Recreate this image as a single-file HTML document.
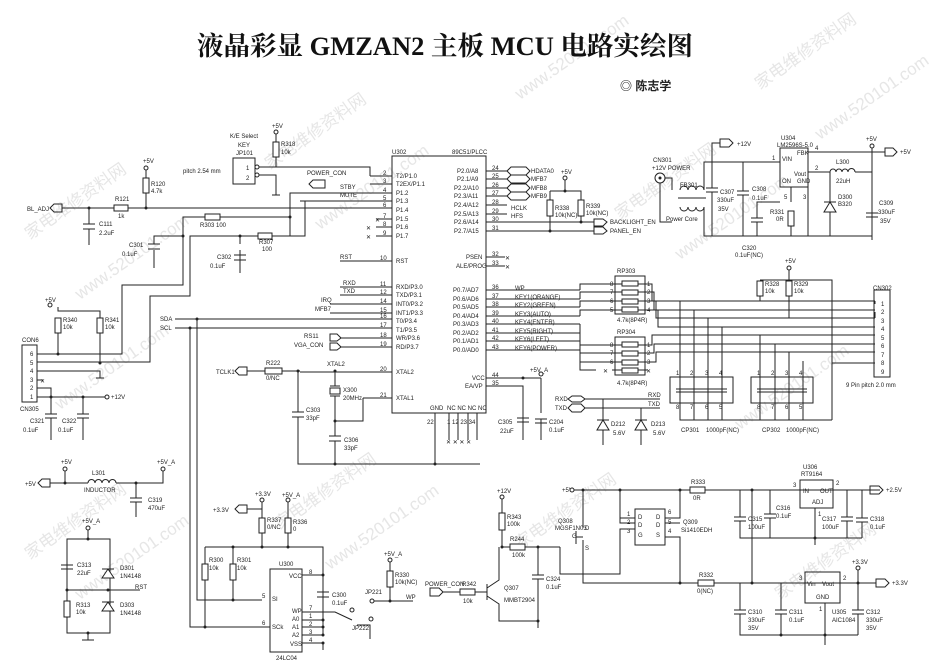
<!DOCTYPE html>
<html><head><meta charset="utf-8">
<style>
html,body{margin:0;padding:0;background:#fff;}
svg{display:block;}
.w{fill:none;stroke:#222;stroke-width:1;}
.r{fill:#fff;stroke:#222;stroke-width:1;}
.b{fill:none;stroke:#222;stroke-width:1;}
text{font-family:"Liberation Sans","Noto Sans CJK SC",sans-serif;font-size:6px;fill:#222;}
.wm{font-size:17px;fill:#e6e6e6;}
.d{fill:#222;}
</style></head><body>
<svg width="950" height="666" viewBox="0 0 950 666" xmlns="http://www.w3.org/2000/svg">
<rect width="950" height="666" fill="#fff"/>
<g class="wm">
<text class="wm" transform="translate(30,240) rotate(-35)">家电维修资料网</text>
<text class="wm" transform="translate(80,300) rotate(-35)">www.520101.com</text>
<text class="wm" transform="translate(270,170) rotate(-35)">家电维修资料网</text>
<text class="wm" transform="translate(320,230) rotate(-35)">www.520101.com</text>
<text class="wm" transform="translate(520,100) rotate(-35)">www.520101.com</text>
<text class="wm" transform="translate(620,220) rotate(-35)">家电维修资料网</text>
<text class="wm" transform="translate(680,260) rotate(-35)">www.520101.com</text>
<text class="wm" transform="translate(760,90) rotate(-35)">家电维修资料网</text>
<text class="wm" transform="translate(820,140) rotate(-35)">www.520101.com</text>
<text class="wm" transform="translate(30,560) rotate(-35)">家电维修资料网</text>
<text class="wm" transform="translate(80,600) rotate(-35)">www.520101.com</text>
<text class="wm" transform="translate(280,530) rotate(-35)">家电维修资料网</text>
<text class="wm" transform="translate(330,570) rotate(-35)">www.520101.com</text>
<text class="wm" transform="translate(520,550) rotate(-35)">家电维修资料网</text>
<text class="wm" transform="translate(740,430) rotate(-35)">www.520101.com</text>
<text class="wm" transform="translate(780,600) rotate(-35)">家电维修资料网</text>
<text class="wm" transform="translate(60,410) rotate(-35)">www.520101.com</text>
</g>
<text x="197" y="55" textLength="496" lengthAdjust="spacingAndGlyphs" style="font-family:'Liberation Serif','Noto Serif CJK SC',serif;font-size:26px;font-weight:bold;fill:#111">液晶彩显 GMZAN2 主板 MCU 电路实绘图</text>
<text x="620" y="90" style="font-size:12px;font-weight:bold">◎ 陈志学</text>

<rect class="b" x="392" y="156" width="94" height="257"/>
<text x="392" y="154">U302</text><text x="452" y="154">89C51/PLCC</text>
<g>
<text x="396" y="178">T2/P1.0</text><text x="396" y="186">T2EX/P1.1</text><text x="396" y="195">P1.2</text><text x="396" y="203">P1.3</text><text x="396" y="212">P1.4</text><text x="396" y="221">P1.5</text><text x="396" y="229">P1.6</text><text x="396" y="238">P1.7</text>
<text x="396" y="263">RST</text>
<text x="396" y="289">RXD/P3.0</text><text x="396" y="297">TXD/P3.1</text><text x="396" y="306">INT0/P3.2</text><text x="396" y="315">INT1/P3.3</text><text x="396" y="323">T0/P3.4</text><text x="396" y="332">T1/P3.5</text><text x="396" y="340">WR/P3.6</text><text x="396" y="349">RD/P3.7</text>
<text x="396" y="374">XTAL2</text><text x="396" y="400">XTAL1</text>
<text x="457" y="173">P2.0/A8</text><text x="457" y="181">P2.1/A9</text><text x="454" y="190">P2.2/A10</text><text x="454" y="198">P2.3/A11</text><text x="454" y="207">P2.4/A12</text><text x="454" y="216">P2.5/A13</text><text x="454" y="224">P2.6/A14</text><text x="454" y="233">P2.7/A15</text>
<text x="466" y="259">PSEN</text><text x="456" y="268">ALE/PROG</text>
<text x="453" y="292">P0.7/AD7</text><text x="453" y="301">P0.6/AD6</text><text x="453" y="309">P0.5/AD5</text><text x="453" y="318">P0.4/AD4</text><text x="453" y="326">P0.3/AD3</text><text x="453" y="335">P0.2/AD2</text><text x="453" y="343">P0.1/AD1</text><text x="453" y="352">P0.0/AD0</text>
<text x="472" y="380">VCC</text><text x="465" y="388">EA/VP</text>
<text x="430" y="410">GND</text><text x="447" y="410">NC NC NC NC</text>
</g>
<path class="w" d="M370 176H392M370 184H392M300 193H392M300 201H392M62 208H392M376 219H392M376 227H392M376 236H392M340 261H392M340 287H392M340 295H392M330 304H392M330 313H392M175 319H392M175 328H392M340 338H392M340 347H392M300 372H392M363 398H392"/>
<g><text x="383" y="175">2</text><text x="383" y="183">3</text><text x="383" y="192">4</text><text x="383" y="200">5</text><text x="383" y="207">6</text><text x="383" y="218">7</text><text x="383" y="226">8</text><text x="383" y="235">9</text><text x="380" y="260">10</text><text x="380" y="286">11</text><text x="380" y="294">12</text><text x="380" y="303">14</text><text x="380" y="312">15</text><text x="380" y="318">16</text><text x="380" y="327">17</text><text x="380" y="337">18</text><text x="380" y="346">19</text><text x="380" y="371">20</text><text x="380" y="397">21</text></g>
<text x="375" y="222">✕</text><text x="366" y="230">✕</text><text x="366" y="239">✕</text>
<text x="340" y="259">RST</text><text x="343" y="285">RXD</text><text x="343" y="293">TXD</text><text x="321" y="302">IRQ</text><text x="315" y="311">MFB7</text>
<text x="340" y="189">STBY</text><text x="340" y="197">MUTE</text><text x="307" y="175">POWER_CON</text>
<path class="b" d="M325 180H313L309 184L313 188H325Z"/>
<text x="230" y="138">K/E Select</text><text x="238" y="147">KEY</text><text x="236" y="155">JP101</text><text x="183" y="173">pitch 2.54 mm</text>
<rect class="b" x="233" y="158" width="22" height="26"/><text x="246" y="170">1</text><text x="246" y="180">2</text>
<circle class="r" cx="257" cy="167" r="2"/><circle class="r" cx="257" cy="175" r="2"/>
<path class="w" d="M259 167H370V176M259 175H276V195M272 195H280M276 134V142M276 157V167"/>
<circle class="r" cx="276" cy="132" r="2"/><rect class="r" x="273" y="142" width="6" height="15"/><text x="281" y="146">R318</text><text x="281" y="154">10k</text>
<text x="272" y="128">+5V</text>
<path class="w" d="M300 193H290V236H270M300 201H305V236H271M290 217H220M205 217H183V285H122V354H37M258 236H190V296H150V362H37M183 236H154V244M154 250V268M240 236V244M240 250V273"/>
<rect class="r" x="205" y="214" width="15" height="6"/><text x="200" y="227">R303 100</text>
<rect class="r" x="258" y="233" width="14" height="6"/><text x="259" y="244">R307</text><text x="262" y="251">100</text>
<path class="w" d="M148 244H160M148 249H160M234 255H246M234 260H246"/><path class="w" d="M154 250V268M240 260V273"/>
<text x="129" y="247">C301</text><text x="122" y="256">0.1uF</text><text x="217" y="259">C302</text><text x="210" y="268">0.1uF</text>
<circle class="d" cx="183" cy="236" r="1.5"/><circle class="d" cx="240" cy="236" r="1.5"/><circle class="d" cx="290" cy="217" r="1.5"/>
<text x="27" y="211">BL_ADJ</text>
<path class="b" d="M50 208L54 204H62V212H54Z"/>
<rect class="r" x="114" y="205" width="14" height="6"/><text x="115" y="201">R121</text><text x="118" y="218">1k</text>
<path class="w" d="M89 208V224M83 224H95M83 229H95M89 229V245M146 208V193M146 178V170"/>
<circle class="d" cx="89" cy="208" r="1.5"/><circle class="d" cx="146" cy="208" r="1.5"/>
<rect class="r" x="143" y="178" width="6" height="15"/><text x="151" y="186">R120</text><text x="151" y="193">4.7k</text>
<circle class="r" cx="146" cy="168" r="2"/><text x="143" y="163">+5V</text>
<text x="99" y="226">C111</text><text x="99" y="235">2.2uF</text>
<rect class="b" x="22" y="345" width="15" height="57"/><text x="22" y="342">CON6</text><text x="20" y="411">CN305</text>
<g><text x="30" y="356">6</text><text x="30" y="365">5</text><text x="30" y="373">4</text><text x="30" y="382">3</text><text x="30" y="390">2</text><text x="30" y="399">1</text></g>
<path class="w" d="M37 371H100V378M96 378H104M37 380H43M37 388H51V397M37 397H105M51 397V414M45 414H57M45 418H57M51 418V440M83 397V414M77 414H89M77 418H89M83 418V440M58 307V311H100V318M58 318V354M100 333V363M58 326V333"/>
<text x="40" y="383">✕</text>
<circle class="r" cx="107" cy="397" r="2"/><text x="111" y="399">+12V</text>
<rect class="r" x="55" y="318" width="6" height="15"/><rect class="r" x="97" y="318" width="6" height="15"/>
<text x="63" y="322">R340</text><text x="63" y="329">10k</text><text x="105" y="322">R341</text><text x="105" y="329">10k</text>
<circle class="r" cx="50" cy="305" r="2"/><text x="45" y="302">+5V</text>
<circle class="d" cx="58" cy="354" r="1.5"/><circle class="d" cx="100" cy="363" r="1.5"/><circle class="d" cx="51" cy="397" r="1.5"/><circle class="d" cx="83" cy="397" r="1.5"/>
<text x="30" y="423">C321</text><text x="23" y="432">0.1uF</text><text x="62" y="423">C322</text><text x="58" y="432">0.1uF</text>
<text x="160" y="321">SDA</text><text x="160" y="330">SCL</text>
<path class="w" d="M197 319V600H262M190 328V627H270"/>
<circle class="d" cx="197" cy="319" r="1.5"/><circle class="d" cx="190" cy="328" r="1.5"/>
<text x="304" y="338">RS11</text><text x="294" y="347">VGA_CON</text>
<path class="b" d="M330 334H337L341 338L337 341H330ZM330 343H337L341 347L337 350H330Z"/>
<text x="216" y="374">TCLK1</text><path class="b" d="M235 371L239 367H247V375H239Z"/>
<path class="w" d="M247 371H265M282 371H300M298 371V412M292 412H304M292 417H304M298 417V464H480M335 372V386M335 396V436M329 436H341M329 441H341M335 441V464M335 421H363V398M435 413V464"/>
<rect class="r" x="265" y="368" width="17" height="6"/><text x="266" y="365">R222</text><text x="266" y="380">0/NC</text>
<rect class="r" x="330" y="388" width="10" height="6"/><path class="w" d="M330 386H340M330 396H340"/>
<text x="327" y="366">XTAL2</text><text x="343" y="392">X300</text><text x="343" y="400">20MHz</text>
<text x="306" y="412">C303</text><text x="306" y="420">33pF</text><text x="344" y="442">C306</text><text x="344" y="450">33pF</text>
<circle class="d" cx="298" cy="371" r="1.5"/><circle class="d" cx="335" cy="371" r="1.5"/><circle class="d" cx="335" cy="421" r="1.5"/><circle class="d" cx="335" cy="464" r="1.5"/><circle class="d" cx="435" cy="464" r="1.5"/>
<text x="427" y="424">22</text><text x="447" y="424">1 12 23 34</text>
<path class="w" d="M449 413V440M458 413V440M468 413V440M477 413V440"/>
<text x="446" y="444">✕ ✕ ✕ ✕</text>
<path class="w" d="M486 171H507M486 179H507M486 188H507M486 196H507M486 205H507M486 214H507M486 222H594M486 231H594M486 257H505M486 266H505M486 290H580M486 299H580M486 307H580M486 316H580M486 324H580M486 333H580M486 341H580M486 350H580M486 378H541M486 386H523V440M541 378V413M541 419V440"/>
<g><text x="492" y="170">24</text><text x="492" y="178">25</text><text x="492" y="187">26</text><text x="492" y="195">27</text><text x="492" y="204">28</text><text x="492" y="213">29</text><text x="492" y="221">30</text><text x="492" y="230">31</text><text x="492" y="256">32</text><text x="492" y="265">33</text><text x="492" y="289">36</text><text x="492" y="298">37</text><text x="492" y="306">38</text><text x="492" y="315">39</text><text x="492" y="323">40</text><text x="492" y="332">41</text><text x="492" y="340">42</text><text x="492" y="349">43</text><text x="492" y="377">44</text><text x="492" y="385">35</text></g>
<text x="505" y="260">✕</text><text x="505" y="269">✕</text>
<path class="b" d="M507 171L511 167H526L530 171L526 175H511ZM507 179L511 175H526L530 179L526 183H511ZM507 188L511 184H526L530 188L526 192H511ZM507 196L511 192H526L530 196L526 200H511Z"/>
<text x="531" y="173">HDATA0</text><text x="531" y="181">MFB7</text><text x="531" y="190">MFB8</text><text x="531" y="198">MFB9</text><text x="511" y="210">HCLK</text><text x="511" y="218">HFS</text>
<path class="w" d="M550 191H581V200M550 191V200M550 216V231M581 216V222M565 180V191"/>
<rect class="r" x="547" y="200" width="6" height="16"/><rect class="r" x="578" y="200" width="6" height="16"/>
<text x="555" y="210">R338</text><text x="555" y="217">10k(NC)</text><text x="586" y="208">R339</text><text x="586" y="215">10k(NC)</text>
<circle class="r" cx="565" cy="178" r="2"/><text x="561" y="174">+5V</text>
<circle class="d" cx="581" cy="222" r="1.5"/><circle class="d" cx="550" cy="231" r="1.5"/><circle class="d" cx="565" cy="191" r="1.5"/>
<path class="b" d="M594 219H603L607 222L603 226H594ZM594 227H603L607 231L603 234H594Z"/>
<text x="610" y="224">BACKLIGHT_EN</text><text x="610" y="233">PANEL_EN</text>
<text x="515" y="290">WP</text><text x="515" y="299">KEY1(ORANGE)</text><text x="515" y="307">KEY2(GREEN)</text><text x="515" y="316">KEY3(AUTO)</text><text x="515" y="324">KEY4(ENTER)</text><text x="515" y="333">KEY5(RIGHT)</text><text x="515" y="341">KEY6(LEFT)</text><text x="515" y="350">KEY6(POWER)</text>
<rect class="b" x="615" y="276" width="30" height="38"/><rect class="b" x="615" y="337" width="30" height="38"/>
<text x="617" y="273">RP303</text><text x="617" y="334">RP304</text><text x="617" y="322">4.7k(8P4R)</text><text x="617" y="385">4.7k(8P4R)</text>
<g class="r"><rect class="r" x="622" y="281" width="16" height="5"/><rect class="r" x="622" y="290" width="16" height="5"/><rect class="r" x="622" y="299" width="16" height="5"/><rect class="r" x="622" y="307" width="16" height="5"/><rect class="r" x="622" y="342" width="16" height="5"/><rect class="r" x="622" y="351" width="16" height="5"/><rect class="r" x="622" y="360" width="16" height="5"/><rect class="r" x="622" y="368" width="16" height="5"/></g>
<path class="w" d="M580 290V284H622M580 299V292H622M580 307V301H622M580 316V310H622M580 324V345H622M580 333V353H622M580 341V362H622M638 284H652V301H875M638 292H654V310H875M638 301H656V318H875M638 310H658V327H875M638 345H652V335H875M638 353H654V344H875M638 362H656V352H875M622 370H612M638 370H648M580 350V370H596"/>
<text x="603" y="373">✕</text><text x="646" y="373">✕</text>
<g><text x="610" y="286">8</text><text x="610" y="294">7</text><text x="610" y="303">6</text><text x="610" y="312">5</text><text x="647" y="286">1</text><text x="647" y="294">2</text><text x="647" y="303">3</text><text x="647" y="312">4</text><text x="610" y="347">8</text><text x="610" y="355">7</text><text x="610" y="364">6</text><text x="647" y="347">1</text><text x="647" y="355">2</text><text x="647" y="364">3</text></g>
<rect class="b" x="670" y="377" width="63" height="26"/><rect class="b" x="751" y="377" width="62" height="26"/>
<path class="w" d="M676 389H727M676 392H727M757 389H807M757 392H807M680 301V420H832M694 310V420M708 318V420M722 327V420M760 335V420M775 344V420M789 352V420M803 361V420M832 363V420"/>
<g><text x="676" y="375">1</text><text x="690" y="375">2</text><text x="705" y="375">3</text><text x="719" y="375">4</text><text x="757" y="375">1</text><text x="771" y="375">2</text><text x="785" y="375">3</text><text x="799" y="375">4</text><text x="676" y="409">8</text><text x="690" y="409">7</text><text x="705" y="409">6</text><text x="719" y="409">5</text><text x="757" y="409">8</text><text x="771" y="409">7</text><text x="785" y="409">6</text><text x="799" y="409">5</text></g>
<text x="681" y="432">CP301</text><text x="706" y="432">1000pF(NC)</text><text x="762" y="432">CP302</text><text x="786" y="432">1000pF(NC)</text>
<rect class="b" x="874" y="290" width="16" height="87"/><text x="873" y="290">CN302</text>
<g><text x="881" y="306">1</text><text x="881" y="314">2</text><text x="881" y="323">3</text><text x="881" y="331">4</text><text x="881" y="340">5</text><text x="881" y="348">6</text><text x="881" y="357">7</text><text x="881" y="365">8</text><text x="881" y="374">9</text></g>
<path class="w" d="M760 296V301M789 296V318M760 280H832V363H875M789 270V280M875 301V304M875 318V312"/>
<rect class="r" x="757" y="281" width="6" height="15"/><rect class="r" x="786" y="281" width="6" height="15"/>
<text x="765" y="286">R328</text><text x="765" y="293">10k</text><text x="794" y="286">R329</text><text x="794" y="293">10k</text>
<circle class="r" cx="789" cy="268" r="2"/><text x="785" y="263">+5V</text>
<text x="846" y="387">9 Pin pitch 2.0 mm</text>
<circle class="r" cx="660" cy="178" r="5"/><circle class="d" cx="660" cy="178" r="1.5"/>
<text x="653" y="162">CN301</text><text x="652" y="170">+12V POWER</text><text x="666" y="221">Power Core</text>
<path class="w" d="M665 178H672V190M660 183V222H672M680 190a4 4 0 0 1 8 0a4 4 0 0 1 8 0a4 4 0 0 1 8 0M680 207a4 4 0 0 0 8 0a4 4 0 0 0 8 0a4 4 0 0 0 8 0M678 198H706M704 190V162H780M704 207V236H872M712 162V188M706 188H718M706 192H718M712 192V236M743 162V191M737 191H749M737 195H749M743 195V236M712 162V143H720M791 187V202M791 212V236M780 202H757V218M751 218H763M751 222H763M757 222V236M808 187V236M808 172H830M855 172H872V213M866 213H878M866 217H878M872 217V240M830 172V236M808 152H885M872 148V236"/>
<text x="680" y="187">FB301</text>
<text x="720" y="194">C307</text><text x="717" y="202">330uF</text><text x="718" y="211">35V</text>
<text x="752" y="191">C308</text><text x="752" y="200">0.1uF</text>
<text x="742" y="250">C320</text><text x="735" y="257">0.1uF(NC)</text>
<rect class="b" x="780" y="148" width="28" height="39"/><text x="781" y="140">U304</text><text x="777" y="147">LM2596S-5.0</text>
<text x="782" y="161">VIN</text><text x="797" y="155">FBK</text><text x="794" y="176">Vout</text><text x="782" y="183">ON</text><text x="797" y="183">GND</text>
<text x="772" y="160">1</text><text x="815" y="150">4</text><text x="815" y="170">2</text><text x="784" y="199">5</text><text x="803" y="199">3</text>
<rect class="r" x="788" y="211" width="6" height="15"/><text x="770" y="214">R331</text><text x="776" y="221">0R</text>
<path class="w" d="M830 172a3 3 0 0 1 6 0a3 3 0 0 1 6 0a3 3 0 0 1 6 0a3 3 0 0 1 7 0"/>
<text x="836" y="164">L300</text><text x="836" y="183">22uH</text>
<path class="r" d="M824 202H836M830 202L824 212H836Z"/><text x="838" y="199">D300</text><text x="838" y="206">B320</text>
<text x="879" y="205">C309</text><text x="878" y="214">330uF</text><text x="880" y="223">35V</text>
<path class="b" d="M720 139H729L733 143L729 147H720Z"/>
<text x="737" y="146">+12V</text>
<path class="b" d="M885 148H893L897 152L893 156H885Z"/><text x="900" y="154">+5V</text>
<circle class="r" cx="872" cy="146" r="2"/><text x="866" y="141">+5V</text>
<text x="530" y="372">+5V_A</text><circle class="r" cx="541" cy="374" r="2"/>
<path class="w" d="M517 418H529M517 422H529M535 419H547M535 423H547"/>
<text x="498" y="424">C305</text><text x="500" y="433">22uF</text><text x="549" y="424">C204</text><text x="549" y="432">0.1uF</text>
<circle class="d" cx="523" cy="378" r="1.5"/>
<text x="555" y="401">RXD</text><text x="555" y="410">TXD</text>
<path class="b" d="M568 399L572 396H581L585 399L581 402H572ZM568 408L572 404H581L585 408L581 412H572Z"/>
<path class="w" d="M585 399H660M585 408H660M603 399V420M641 408V420M603 430V445M641 430V445"/>
<path class="r" d="M597 420H609M603 420L597 430H609Z"/><path class="r" d="M635 420H647M641 420L635 430H647Z"/>
<text x="648" y="397">RXD</text><text x="648" y="406">TXD</text>
<text x="611" y="426">D212</text><text x="613" y="435">5.6V</text><text x="651" y="426">D213</text><text x="653" y="435">5.6V</text>
<text x="25" y="486">+5V</text><path class="b" d="M38 483L42 479H50V487H42Z"/>
<path class="w" d="M50 483H88M88 483a3.4 3.4 0 0 1 7 0a3.4 3.4 0 0 1 7 0a3.4 3.4 0 0 1 7 0a3.4 3.4 0 0 1 7 0M116 483H163V471M65 471V483M136 483V498M130 498H142M130 502H142M136 502V517"/>
<circle class="r" cx="65" cy="469" r="2"/><circle class="r" cx="163" cy="469" r="2"/><text x="61" y="464">+5V</text><text x="157" y="464">+5V_A</text>
<text x="92" y="475">L301</text><text x="84" y="492">INDUCTOR</text><text x="148" y="502">C319</text><text x="148" y="510">470uF</text>
<circle class="d" cx="65" cy="483" r="1.5"/><circle class="d" cx="136" cy="483" r="1.5"/>
<rect class="b" x="67" y="539" width="43" height="94"/>
<circle class="r" cx="88" cy="528" r="2"/><text x="82" y="523">+5V_A</text>
<path class="w" d="M88 530V539M88 633V640M82 640H94M61 565H73M61 569H73M67 590H140"/>
<rect class="r" x="64" y="601" width="6" height="16"/>
<path class="r" d="M102 569H114M108 569L102 578H114Z"/><path class="r" d="M102 602H114M108 602L102 611H114Z"/>
<text x="77" y="567">C313</text><text x="77" y="575">22uF</text><text x="120" y="570">D301</text><text x="120" y="578">1N4148</text>
<text x="135" y="589">RST</text><text x="76" y="607">R313</text><text x="76" y="614">10k</text><text x="120" y="607">D303</text><text x="120" y="615">1N4148</text>
<circle class="d" cx="88" cy="539" r="1.5"/><circle class="d" cx="67" cy="590" r="1.5"/><circle class="d" cx="108" cy="590" r="1.5"/><circle class="d" cx="88" cy="633" r="1.5"/>
<text x="213" y="512">+3.3V</text><path class="b" d="M235 509L239 505H247V513H239Z"/>
<path class="w" d="M247 509H262V502M262 509V518M262 533V547M288 501V518M288 533V547M205 547H323V634M205 547V564M205 580V627M233 547V564M233 580V600M317 592H329M317 597H329M323 575H302M302 612H323M302 620H323M302 627H323M302 635H323M302 643H323M323 643V650M323 612H335L352 620M357 625H370V639"/>
<circle class="r" cx="262" cy="500" r="2"/><circle class="r" cx="288" cy="500" r="2"/><text x="255" y="496">+3.3V</text><text x="282" y="497">+5V_A</text>
<rect class="r" x="259" y="518" width="6" height="15"/><rect class="r" x="285" y="518" width="6" height="15"/>
<text x="267" y="522">R337</text><text x="267" y="529">0/NC</text><text x="293" y="524">R336</text><text x="293" y="531">0</text>
<rect class="r" x="202" y="564" width="6" height="16"/><rect class="r" x="230" y="564" width="6" height="16"/>
<text x="209" y="562">R300</text><text x="209" y="570">10k</text><text x="237" y="562">R301</text><text x="237" y="570">10k</text>
<rect class="b" x="270" y="569" width="32" height="83"/><text x="279" y="566">U300</text><text x="276" y="660">24LC04</text>
<text x="289" y="578">VCC</text><text x="272" y="601">SI</text><text x="272" y="629">SCk</text><text x="292" y="613">WP</text><text x="292" y="621">A0</text><text x="292" y="629">A1</text><text x="292" y="637">A2</text><text x="290" y="646">VSS</text>
<text x="309" y="574">8</text><text x="262" y="598">5</text><text x="262" y="625">6</text><text x="309" y="610">7</text><text x="309" y="618">1</text><text x="309" y="626">2</text><text x="309" y="634">3</text><text x="309" y="642">4</text>
<text x="332" y="597">C300</text><text x="332" y="605">0.1uF</text>
<circle class="d" cx="262" cy="547" r="1.5"/><circle class="d" cx="288" cy="547" r="1.5"/><circle class="d" cx="233" cy="547" r="1.5"/><circle class="d" cx="233" cy="600" r="1.5"/><circle class="d" cx="205" cy="627" r="1.5"/><circle class="d" cx="323" cy="575" r="1.5"/><circle class="d" cx="323" cy="620" r="1.5"/><circle class="d" cx="323" cy="627" r="1.5"/><circle class="d" cx="323" cy="635" r="1.5"/><circle class="d" cx="323" cy="643" r="1.5"/>
<circle class="r" cx="352" cy="610" r="2"/><circle class="r" cx="371" cy="619" r="2"/><text x="352" y="630">JP222</text>
<circle class="r" cx="372" cy="601" r="2"/><path class="w" d="M374 601H413M390 601V587M390 571V562"/>
<text x="365" y="594">JP221</text><text x="406" y="599">WP</text>
<rect class="r" x="387" y="571" width="6" height="16"/><text x="395" y="577">R330</text><text x="395" y="584">10k(NC)</text>
<circle class="r" cx="390" cy="560" r="2"/><text x="384" y="556">+5V_A</text><circle class="d" cx="390" cy="601" r="1.5"/>
<text x="425" y="586">POWER_CON</text><path class="b" d="M430 588H439L443 592L439 596H430Z"/>
<path class="w" d="M443 592H460M475 592H487M487 584V600M487 588L499 580V547M487 596L499 604V621H538M502 499V513M502 530V547H510M525 547H560M538 547V575M532 575H544M532 579H544M538 579V628M560 547V574H620V529H635"/>
<rect class="r" x="460" y="589" width="15" height="6"/><text x="462" y="586">R342</text><text x="463" y="603">10k</text>
<text x="504" y="590">Q307</text><text x="504" y="602">MMBT2904</text>
<circle class="r" cx="502" cy="497" r="2"/><text x="497" y="493">+12V</text>
<rect class="r" x="499" y="513" width="6" height="17"/><text x="507" y="519">R343</text><text x="507" y="526">100k</text>
<rect class="r" x="510" y="544" width="15" height="6"/><text x="510" y="541">R244</text><text x="512" y="557">100k</text>
<text x="546" y="581">C324</text><text x="546" y="589">0.1uF</text>
<circle class="d" cx="502" cy="547" r="1.5"/><circle class="d" cx="538" cy="547" r="1.5"/><circle class="d" cx="538" cy="621" r="1.5"/>
<text x="562" y="492">+5V</text><circle class="r" cx="572" cy="490" r="2"/>
<path class="w" d="M574 490H690M705 490H880M583 490V528M576 537H583M576 531V544M583 540V583H698M714 583H876M620 490V518H635M620 490V523H635M665 518H680V490M665 523H680M665 537H680V583M752 490V583"/>
<text x="558" y="523">Q308</text><text x="555" y="530">MGSF1N03</text><text x="572" y="538">G</text><text x="585" y="530">D</text><text x="585" y="550">S</text>
<rect class="b" x="635" y="509" width="30" height="36"/>
<text x="638" y="519">D</text><text x="638" y="527">D</text><text x="638" y="537">G</text><text x="656" y="519">D</text><text x="656" y="527">D</text><text x="656" y="537">S</text>
<text x="627" y="516">1</text><text x="627" y="524">2</text><text x="627" y="533">3</text><text x="668" y="514">6</text><text x="668" y="524">5</text><text x="668" y="533">4</text>
<text x="683" y="524">Q309</text><text x="681" y="532">Si1410EDH</text>
<rect class="r" x="690" y="487" width="15" height="6"/><text x="691" y="484">R333</text><text x="693" y="500">0R</text>
<rect class="r" x="698" y="580" width="16" height="6"/><text x="699" y="577">R332</text><text x="697" y="593">0(NC)</text>
<circle class="d" cx="583" cy="490" r="1.5"/><circle class="d" cx="620" cy="490" r="1.5"/><circle class="d" cx="680" cy="490" r="1.5"/><circle class="d" cx="752" cy="490" r="1.5"/><circle class="d" cx="680" cy="583" r="1.5"/><circle class="d" cx="752" cy="583" r="1.5"/>
<rect class="b" x="800" y="480" width="33" height="28"/><text x="803" y="469">U306</text><text x="801" y="476">RT9164</text>
<text x="803" y="493">IN</text><text x="820" y="493">OUT</text><text x="812" y="504">ADJ</text><text x="793" y="487">3</text><text x="836" y="485">2</text><text x="818" y="516">1</text>
<path class="w" d="M740 490V517M734 517H746M734 521H746M740 521V538H862M770 490V514M764 514H776M764 518H776M770 518V538M815 508V545M847 490V517M841 517H853M841 521H853M847 521V538M862 490V518M856 518H868M856 522H868M862 522V538"/>
<text x="748" y="521">C315</text><text x="748" y="529">100uF</text><text x="776" y="510">C316</text><text x="776" y="518">0.1uF</text><text x="822" y="521">C317</text><text x="822" y="529">100uF</text><text x="870" y="521">C318</text><text x="870" y="529">0.1uF</text>
<path class="b" d="M870 486H879L883 490L879 494H870Z"/><text x="886" y="492">+2.5V</text>
<rect class="b" x="805" y="572" width="35" height="31"/><text x="807" y="586">Vin</text><text x="822" y="586">Vout</text><text x="816" y="599">GND</text>
<text x="799" y="580">3</text><text x="843" y="580">2</text><text x="819" y="611">1</text>
<text x="832" y="614">U305</text><text x="832" y="622">AIC1084</text>
<path class="w" d="M740 583V610M734 610H746M734 614H746M740 614V635H858M781 583V610M775 610H787M775 614H787M781 614V635M825 603V645M858 583V610M852 610H864M852 614H864M858 614V635M858 583V570"/>
<circle class="r" cx="858" cy="568" r="2"/><text x="852" y="564">+3.3V</text>
<text x="748" y="614">C310</text><text x="748" y="622">330uF</text><text x="748" y="630">35V</text><text x="789" y="614">C311</text><text x="789" y="622">0.1uF</text><text x="866" y="614">C312</text><text x="866" y="622">330uF</text><text x="866" y="630">35V</text>
<path class="b" d="M876 579H885L889 583L885 587H876Z"/><text x="892" y="585">+3.3V</text>
<circle class="d" cx="858" cy="583" r="1.5"/><circle class="d" cx="825" cy="635" r="1.5"/><circle class="d" cx="781" cy="635" r="1.5"/><circle class="d" cx="815" cy="538" r="1.5"/>
</svg>
</body></html>
